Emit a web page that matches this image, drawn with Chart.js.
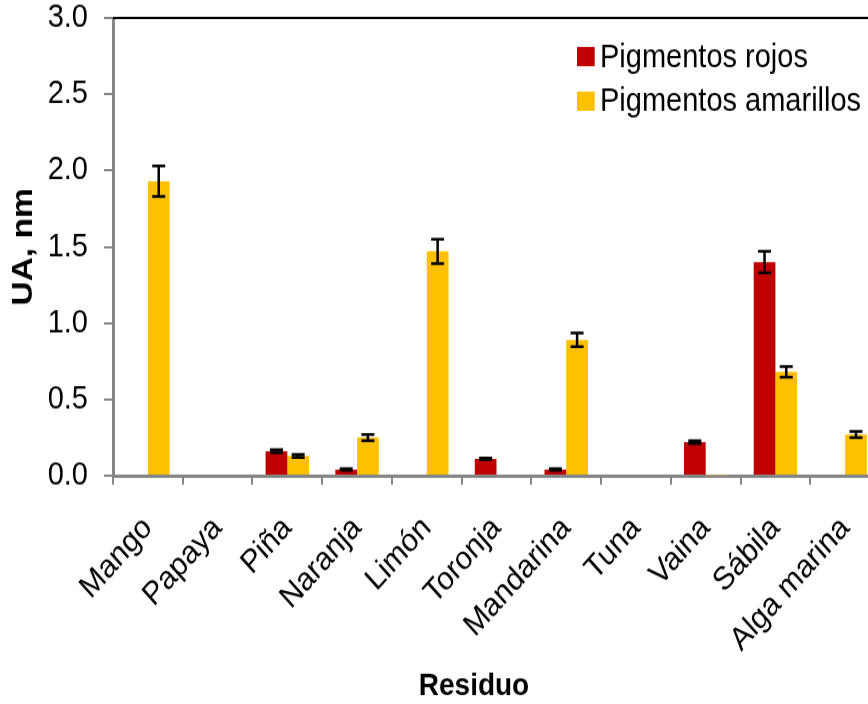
<!DOCTYPE html>
<html>
<head>
<meta charset="utf-8">
<script src="https://cdn.jsdelivr.net/npm/chart.js@4/dist/chart.umd.min.js"></script>
<style>
  html, body { margin: 0; padding: 0; background: #ffffff; overflow: hidden; width: 868px; height: 704px; }
  #wrap { position: absolute; left: 0; top: 0; transform: scaleY(1.1192); transform-origin: 0 0; }
</style>
</head>
<body>
<div id="wrap"><canvas id="c" width="890" height="629"></canvas></div>
<script>
// Residuos y absorbancia de sus pigmentos
const categories = ['Mango', 'Papaya', 'Piña', 'Naranja', 'Limón', 'Toronja', 'Mandarina', 'Tuna', 'Vaina', 'Sábila', 'Alga marina'];
const rojos        = [0, 0, 0.16, 0.04, 0, 0.11, 0.04, 0, 0.22, 1.40, 0];
const rojosErr     = [0, 0, 0.01, 0.005, 0, 0.005, 0.005, 0, 0.01, 0.07, 0];
const amarillos    = [1.93, 0, 0.13, 0.25, 1.47, 0, 0.89, 0, 0.005, 0.68, 0.27];
const amarillosErr = [0.10, 0, 0.01, 0.02, 0.08, 0, 0.045, 0, 0, 0.035, 0.02];
const yTicks = [0, 0.5, 1.0, 1.5, 2.0, 2.5, 3.0];
const seriesNames = ['Pigmentos rojos', 'Pigmentos amarillos'];
const X_TITLE = 'Residuo';
const Y_TITLE = 'UA, nm';

const RED = '#C00000';
const YELLOW = '#FFC000';
const AXIS_GREY = '#868686';
const FONT = "'Liberation Sans', Arial, sans-serif";

// error bars drawn from each dataset's err array
const errorBars = {
  id: 'errorBars',
  afterDatasetsDraw(chart) {
    const ctx = chart.ctx;
    const y = chart.scales.y;
    ctx.save();
    ctx.strokeStyle = '#000000';
    ctx.lineWidth = 2.5;
    chart.data.datasets.forEach((ds, di) => {
      const meta = chart.getDatasetMeta(di);
      meta.data.forEach((bar, i) => {
        const e = ds.err[i];
        if (!e) return;
        const v = ds.data[i];
        const x = bar.x;
        const yTop = y.getPixelForValue(v + e);
        const yBot = y.getPixelForValue(Math.max(v - e, 0));
        const cap = 6.5;
        ctx.beginPath();
        ctx.moveTo(x, yTop); ctx.lineTo(x, yBot);
        ctx.moveTo(x - cap, yTop); ctx.lineTo(x + cap, yTop);
        ctx.moveTo(x - cap, yBot); ctx.lineTo(x + cap, yBot);
        ctx.stroke();
      });
    });
    ctx.restore();
  }
};

// frame line along the top, legend inside the plot, x-axis title
const decorations = {
  id: 'decorations',
  afterDraw(chart) {
    const ctx = chart.ctx;
    const a = chart.chartArea;
    ctx.save();
    ctx.strokeStyle = '#000000';
    ctx.lineWidth = 1.8;
    ctx.beginPath();
    ctx.moveTo(a.left, a.top);
    ctx.lineTo(chart.width, a.top);
    ctx.stroke();

    // legend
    const rows = [a.top + 34.5, a.top + 74.4];
    ctx.font = '29px ' + FONT;
    ctx.textBaseline = 'middle';
    ctx.textAlign = 'left';
    chart.data.datasets.forEach((ds, i) => {
      ctx.fillStyle = ds.backgroundColor;
      ctx.fillRect(577, rows[i] - 8.6, 17.7, 17.2);
      ctx.fillStyle = '#000000';
      ctx.fillText(ds.label, 600, rows[i] + 1);
    });

    // x-axis title
    ctx.font = 'bold 28px ' + FONT;
    ctx.textAlign = 'center';
    ctx.fillText(X_TITLE, 474, 613.5);
    ctx.restore();
  }
};

new Chart(document.getElementById('c'), {
  type: 'bar',
  data: {
    labels: categories,
    datasets: [
      { label: seriesNames[0], data: rojos, err: rojosErr, backgroundColor: RED, borderWidth: 0,
        categoryPercentage: 0.623, barPercentage: 1.0 },
      { label: seriesNames[1], data: amarillos, err: amarillosErr, backgroundColor: YELLOW, borderWidth: 0,
        categoryPercentage: 0.623, barPercentage: 1.0 }
    ]
  },
  options: {
    responsive: false,
    animation: false,
    events: [],
    layout: { padding: { top: 16, right: 10, bottom: 0, left: 0 } },
    plugins: { legend: { display: false }, tooltip: { enabled: false } },
    scales: {
      x: {
        offset: true,
        grid: { display: true, drawOnChartArea: false, drawTicks: true, tickLength: 8, color: AXIS_GREY, lineWidth: 2, offset: true },
        border: { display: true, color: AXIS_GREY, width: 3 },
        ticks: { color: '#000000', font: { family: FONT, size: 29 }, minRotation: 45, maxRotation: 45, autoSkip: false, padding: 22 },
        afterFit(s) { s.height = 204; s.paddingLeft = 0; s.paddingRight = 0; }
      },
      y: {
        min: 0, max: 3,
        afterBuildTicks(s) { s.ticks = yTicks.map(v => ({ value: v })); },
        grid: { display: true, drawOnChartArea: false, drawTicks: true, tickLength: 9, color: AXIS_GREY, lineWidth: 2 },
        border: { display: true, color: AXIS_GREY, width: 3 },
        ticks: { color: '#000000', font: { family: FONT, size: 29 }, padding: 16, callback: v => Number(v).toFixed(1) },
        title: { display: true, text: Y_TITLE, color: '#000000', font: { family: FONT, size: 30, weight: 'bold' }, padding: { top: 6, bottom: 0 } },
        afterFit(s) { s.width = 113; s.paddingTop = 0; s.paddingBottom = 0; }
      }
    }
  },
  plugins: [errorBars, decorations]
});
</script>
</body>
</html>
